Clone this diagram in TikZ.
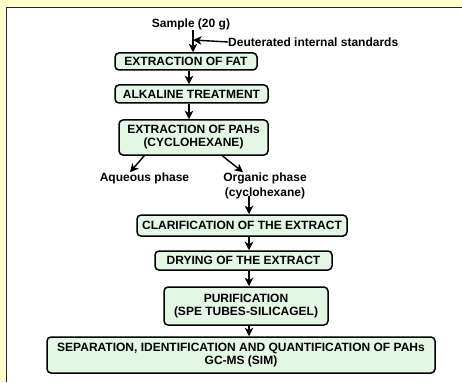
\documentclass[tikz,border=0pt]{standalone}
\usepackage{fontspec}
\setmainfont{Liberation Sans}
\usetikzlibrary{arrows.meta}
\definecolor{pagebg}{HTML}{FFFFCC}
\definecolor{boxfill}{HTML}{E4F6E4}
\begin{document}
\begin{tikzpicture}[x=1pt,y=-1pt,
  every node/.style={font=\fontsize{12}{13}\selectfont\bfseries, inner sep=0pt, align=center},
  stepbox/.style={draw=black, line width=1.5pt, fill=boxfill, rounded corners=4pt},
  arr/.style={line width=1.4pt, -{Stealth[length=8.5pt,width=8.5pt,inset=2.5pt]}}]
  % page and panel
  \useasboundingbox (0,0) rectangle (462,382);
  \fill[pagebg] (0,0) rectangle (462,382);
  \fill[white] (6.5,7.5) rectangle (462,382);
  \draw[line width=1.6pt, black!85] (6.5,382) -- (6.5,7.5) -- (462,7.5);

  % column positions for the vertical connectors
  \coordinate (c1) at (189,0);
  \coordinate (c2) at (249,0);
  \coordinate (j) at (193,40);

  % texts and process steps
  \node (sample) at (191,24) {Sample (20 g)};
  \node[anchor=west] (deut) at (228,42) {Deuterated internal standards};
  \node[stepbox, minimum width=142, minimum height=17] (fat) at (186,61.5) {EXTRACTION OF FAT};
  \node[stepbox, minimum width=153, minimum height=18] (alk) at (191.5,94) {ALKALINE TREATMENT};
  \node[stepbox, minimum width=149, minimum height=35] (pah) at (193.5,137.5) {EXTRACTION OF PAHs\\(CYCLOHEXANE)};
  \node (aq) at (144.5,178) {Aqueous phase};
  \node[font=\fontsize{12}{15}\selectfont\bfseries] (org) at (265,185.5) {Organic phase\\(cyclohexane)};
  \node[stepbox, minimum width=210, minimum height=21] (clar) at (242,225.5) {CLARIFICATION OF THE EXTRACT};
  \node[stepbox, minimum width=177, minimum height=19] (dry) at (243.5,260.5) {DRYING OF THE EXTRACT};
  \node[stepbox, minimum width=164, minimum height=38] (pur) at (246,306) {PURIFICATION\\(SPE TUBES-SILICAGEL)};
  \node[stepbox, minimum width=388, minimum height=36] (sep) at (241,355) {SEPARATION, IDENTIFICATION AND QUANTIFICATION OF PAHs\\GC-MS (SIM)};

  % connectors
  \draw[arr] (sample.south -| j) -- (fat.north -| j);
  \draw[arr] (deut.west) -- (j);
  \draw[arr] (fat.south -| c1) -- (alk.north -| c1);
  \draw[arr] (alk.south -| c1) -- (pah.north -| c1);
  \draw[arr] (pah.south west) ++(26,0) coordinate (pl) (pl) -- (aq.north -| 130,0);
  \draw[arr] (pah.south west) ++(104,0) coordinate (pr) (pr) -- (org.north -| 243,0);
  \draw[arr] (org.south -| c2) ++(0,-3) -- (clar.north -| c2);
  \draw[arr] (clar.south -| c2) -- (dry.north -| c2);
  \draw[arr] (dry.south -| c2) -- (pur.north -| c2);
  \draw[arr] (pur.south -| c2) -- (sep.north -| c2);
\end{tikzpicture}
\end{document}
